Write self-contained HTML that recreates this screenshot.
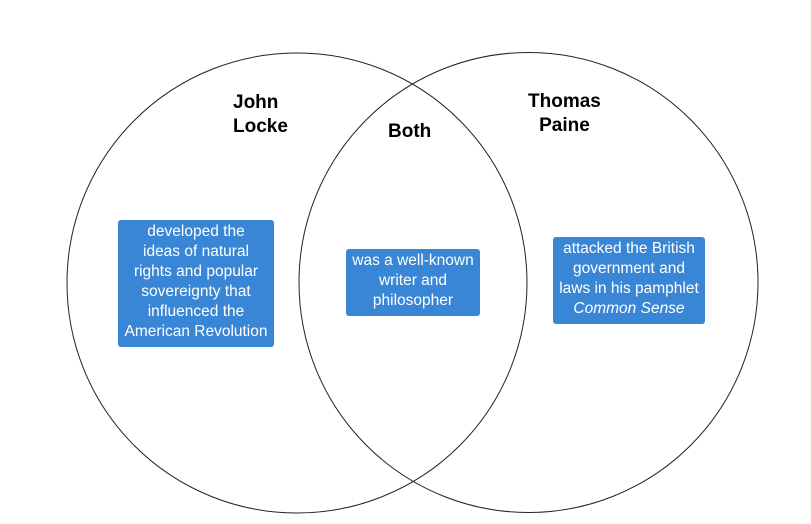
<!DOCTYPE html>
<html><head><style>
body{margin:0;width:811px;height:524px;background:#fff;position:relative;overflow:hidden;font-family:"Liberation Sans",Arial,sans-serif}
svg{position:absolute;left:0;top:0}
.t{position:absolute;font-weight:bold;font-size:19px;line-height:24px;color:#000}
.b{position:absolute;background:#3a86d6;color:#fff;font-size:15.5px;line-height:20px;text-align:center;border-radius:3px;box-sizing:border-box;white-space:nowrap}
</style></head><body>
<svg width="811" height="524"><ellipse cx="297" cy="283" rx="230" ry="230" fill="none" stroke="#222" stroke-width="1"/><ellipse cx="528.5" cy="282.5" rx="229.5" ry="230" fill="none" stroke="#222" stroke-width="1"/></svg>
<div class="t" style="left:233px;top:91px">John<br>Locke</div>
<div class="t" style="left:388px;top:120px">Both</div>
<div class="t" style="left:528px;top:90px;text-align:center">Thomas<br>Paine</div>
<div class="b" style="left:118px;top:220px;width:156px;height:127px;padding-top:2px">developed the<br>ideas of natural<br>rights and popular<br>sovereignty that<br>influenced the<br>American Revolution</div>
<div class="b" style="left:346px;top:249px;width:134px;height:67px;padding-top:2px">was a well-known<br>writer and<br>philosopher</div>
<div class="b" style="left:553px;top:237px;width:152px;height:87px;padding-top:2px">attacked the British<br>government and<br>laws in his pamphlet<br><i>Common Sense</i></div>
</body></html>
